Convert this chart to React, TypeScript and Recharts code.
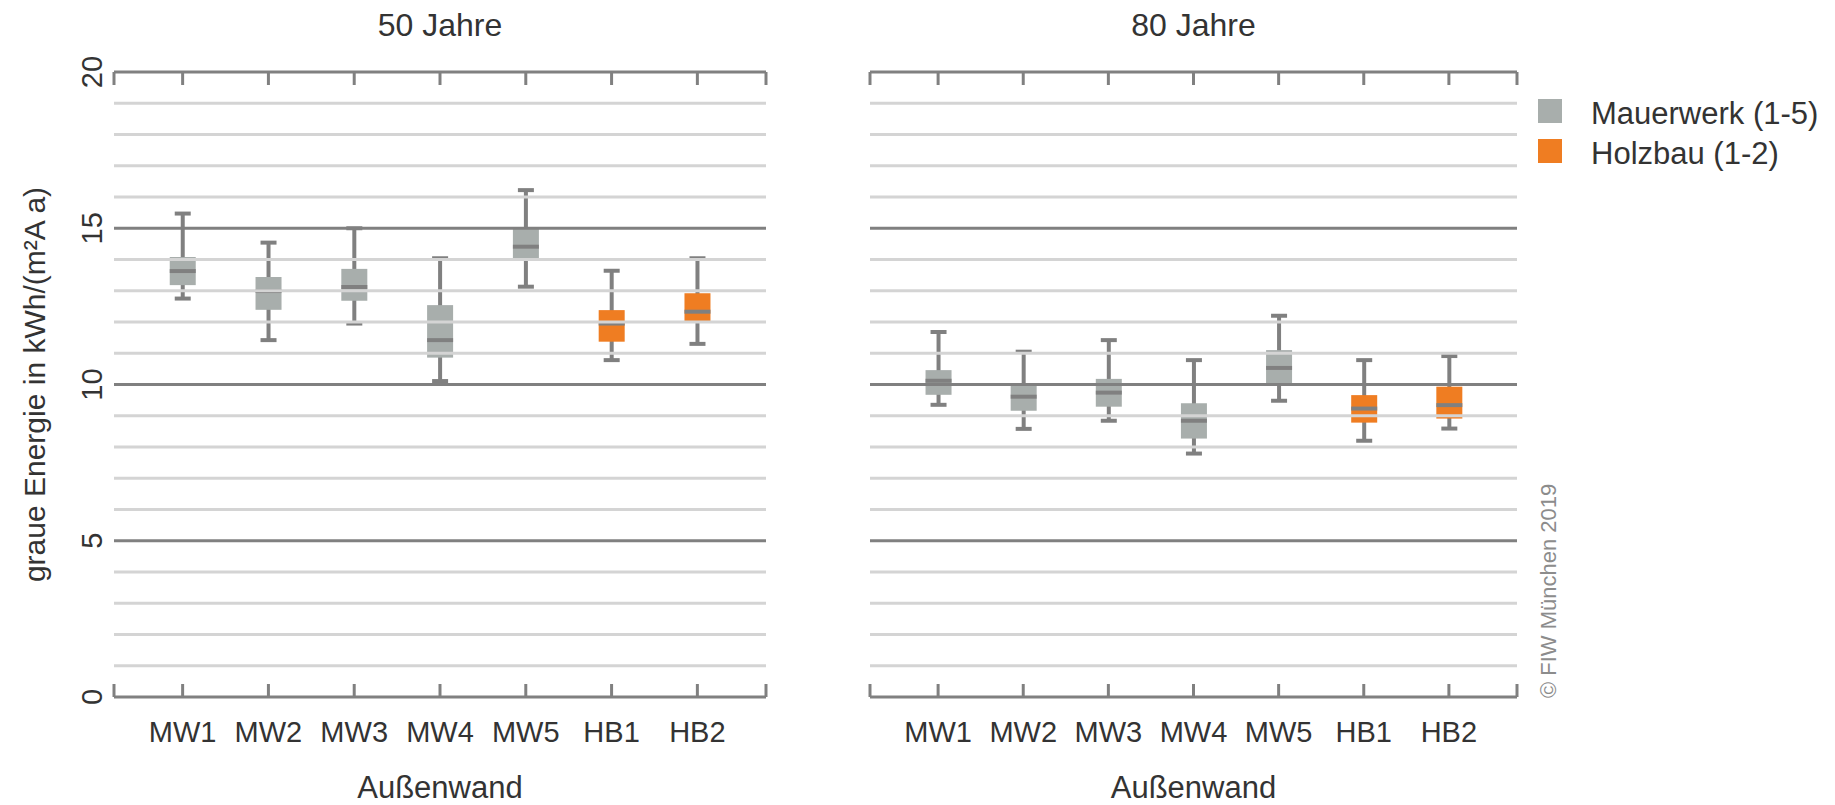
import { Bar, ComposedChart, Legend, ReferenceLine, XAxis, YAxis } from 'recharts'

const FONT = '"Liberation Sans", Arial, sans-serif'
const TEXT = '#333333'
const GRAY = '#a8aeac'
const ORANGE = '#ef7d22'
const LINE = '#808080'
const MINOR = '#d4d4d4'

const CATEGORIES = ['MW1', 'MW2', 'MW3', 'MW4', 'MW5', 'HB1', 'HB2']
const GROUPS = ['MW', 'MW', 'MW', 'MW', 'MW', 'HB', 'HB']

// 50 Jahre
const MIN_50 = [12.75, 11.42, 11.95, 10.11, 13.13, 10.78, 11.3]
const Q1_50 = [13.18, 12.39, 12.68, 10.86, 13.96, 11.37, 12.01]
const MED_50 = [13.63, 12.99, 13.12, 11.42, 14.41, 11.95, 12.33]
const Q3_50 = [14.08, 13.44, 13.7, 12.54, 15.0, 12.38, 12.92]
const MAX_50 = [15.47, 14.54, 15.0, 14.04, 16.22, 13.64, 14.04]

// 80 Jahre
const MIN_80 = [9.35, 8.58, 8.84, 7.79, 9.48, 8.2, 8.59]
const Q1_80 = [9.67, 9.16, 9.29, 8.27, 10.02, 8.78, 8.91]
const MED_80 = [10.12, 9.61, 9.74, 8.84, 10.53, 9.23, 9.34]
const Q3_80 = [10.46, 10.04, 10.18, 9.4, 11.1, 9.66, 9.93]
const MAX_80 = [11.68, 11.05, 11.42, 10.78, 12.2, 10.78, 10.91]

const Y_TICKS = [0, 5, 10, 15, 20]
const MAJOR_LINES = [5, 10, 15]
const MINOR_LINES = [1, 2, 3, 4, 6, 7, 8, 9, 11, 12, 13, 14, 16, 17, 18, 19]
const X_DOMAIN = [0.2, 7.8]
const X_TICKS = [0.2, 1, 2, 3, 4, 5, 6, 7, 7.8]

const LEGEND_ITEMS = [
  { label: 'Mauerwerk (1-5)', color: GRAY },
  { label: 'Holzbau (1-2)', color: ORANGE },
]

const rows = (mins: number[], q1s: number[], meds: number[], q3s: number[], maxs: number[]) =>
  CATEGORIES.map((name, i) => ({
    idx: i + 1, name, group: GROUPS[i],
    min: mins[i], q1: q1s[i], med: meds[i], q3: q3s[i], max: maxs[i],
  }))

const DATA_50 = rows(MIN_50, Q1_50, MED_50, Q3_50, MAX_50)
const DATA_80 = rows(MIN_80, Q1_80, MED_80, Q3_80, MAX_80)

/** whisker + box + median, positioned from the [min, max] range bar */
function BoxShape(props: any) {
  const { x, y, width, height, payload } = props
  const { min, q1, med, q3, max, group } = payload
  const py = (v: number) => y + (height * (max - v)) / (max - min)
  const cx = x + width / 2
  return (
    <g>
      <line x1={cx} x2={cx} y1={y} y2={y + height} stroke={LINE} strokeWidth={4} />
      <line x1={cx - 8} x2={cx + 8} y1={y} y2={y} stroke={LINE} strokeWidth={4} />
      <line x1={cx - 8} x2={cx + 8} y1={y + height} y2={y + height} stroke={LINE} strokeWidth={4} />
      <rect x={x} y={py(q3)} width={width} height={py(q1) - py(q3)} fill={group === 'HB' ? ORANGE : GRAY} />
      <line x1={x} x2={x + width} y1={py(med)} y2={py(med)} stroke={LINE} strokeWidth={4} />
    </g>
  )
}

function CatTick({ x, y, payload }: any) {
  const name = CATEGORIES[payload.value - 1]
  if (!name) return null
  return (
    <text x={x} y={y} textAnchor="middle" fontSize={29} fill={TEXT} fontFamily={FONT}>{name}</text>
  )
}

function NoTick() {
  return null
}

function YTick({ x, y, payload }: any) {
  return (
    <text x={x} y={y} transform={`rotate(-90, ${x}, ${y})`} textAnchor="middle" fontSize={29} fill={TEXT} fontFamily={FONT}>
      {payload.value}
    </text>
  )
}

function LegendBox() {
  return (
    <div style={{ fontFamily: FONT }}>
      {LEGEND_ITEMS.map((it) => (
        <div key={it.label} style={{ display: 'flex', alignItems: 'center', height: 40 }}>
          <span style={{ width: 24, height: 24, background: it.color, display: 'inline-block' }} />
          <span style={{ marginLeft: 29, fontSize: 31, color: TEXT, lineHeight: '40px', position: 'relative', top: 3, whiteSpace: 'nowrap' }}>
            {it.label}
          </span>
        </div>
      ))}
    </div>
  )
}

function BoxChart({ data, title, width, margin, showY, legend }: {
  data: any[]; title: string; width: number; margin: any; showY: boolean; legend?: boolean
}) {
  return (
    <ComposedChart width={width} height={805} data={data} margin={margin}>
      <XAxis xAxisId="top" orientation="top" type="number" dataKey="idx" domain={X_DOMAIN} ticks={X_TICKS}
        interval={0} height={10} stroke={LINE} axisLine={{ stroke: LINE, strokeWidth: 3 }}
        tickLine={{ stroke: LINE, strokeWidth: 3 }} tickSize={-13} tick={<NoTick />}
        label={(p: any) => (
          <text x={p.viewBox.x + p.viewBox.width / 2} y={p.viewBox.y - 26} textAnchor="middle"
            fontSize={32} fill={TEXT} fontFamily={FONT}>{title}</text>
        )} />
      <XAxis xAxisId="bottom" type="number" dataKey="idx" domain={X_DOMAIN} ticks={X_TICKS}
        interval={0} height={60} stroke={LINE} axisLine={{ stroke: LINE, strokeWidth: 3 }}
        tickLine={{ stroke: LINE, strokeWidth: 3 }} tickSize={-13} tickMargin={58} tick={<CatTick />}
        label={(p: any) => (
          <text x={p.viewBox.x + p.viewBox.width / 2} y={p.viewBox.y + 101} textAnchor="middle"
            fontSize={31} fill={TEXT} fontFamily={FONT}>Außenwand</text>
        )} />
      <YAxis type="number" domain={[0, 20]} ticks={Y_TICKS} interval={0} hide={!showY} width={60}
        axisLine={false} tickLine={false} tickSize={6} tickMargin={6} tick={<YTick />}
        label={(p: any) => (
          <text x={p.viewBox.x - 9} y={p.viewBox.y + p.viewBox.height / 2}
            transform={`rotate(-90, ${p.viewBox.x - 9}, ${p.viewBox.y + p.viewBox.height / 2})`}
            textAnchor="middle" fontSize={30} fill={TEXT} fontFamily={FONT}>
            graue Energie in kWh/(m²A a)
          </text>
        )} />
      {MINOR_LINES.map((v) => (
        <ReferenceLine key={`m${v}`} xAxisId="bottom" y={v} stroke={MINOR} strokeWidth={3} />
      ))}
      {MAJOR_LINES.map((v) => (
        <ReferenceLine key={`M${v}`} xAxisId="bottom" y={v} stroke={LINE} strokeWidth={3} />
      ))}
      <Bar xAxisId="bottom" dataKey={(d: any) => [d.min, d.max]} barSize={26} shape={<BoxShape />}
        isAnimationActive={false} />
      {legend && (
        <Legend layout="vertical" align="center" verticalAlign="middle" content={() => <LegendBox />}
          wrapperStyle={{ left: 708, top: 91, width: 300, height: 80 }} />
      )}
    </ComposedChart>
  )
}

export default function App() {
  return (
    <div style={{ position: 'absolute', left: 0, top: 0, width: 1835, height: 805, background: '#fff', overflow: 'hidden' }}>
      <div style={{ position: 'absolute', left: 0, top: 0 }}>
        <BoxChart data={DATA_50} title="50 Jahre" width={790} showY
          margin={{ top: 62, right: 24, bottom: 48, left: 54 }} />
      </div>
      <div style={{ position: 'absolute', left: 830, top: 0 }}>
        <BoxChart data={DATA_80} title="80 Jahre" width={1005} showY={false} legend
          margin={{ top: 62, right: 318, bottom: 48, left: 40 }} />
      </div>
      <div style={{
        position: 'absolute', left: 1538, top: 698, transform: 'rotate(-90deg)', transformOrigin: '0 0',
        fontFamily: FONT, fontSize: 22, lineHeight: '22px', color: '#8c8c8c', whiteSpace: 'nowrap',
      }}>
        © FIW München 2019
      </div>
    </div>
  )
}
